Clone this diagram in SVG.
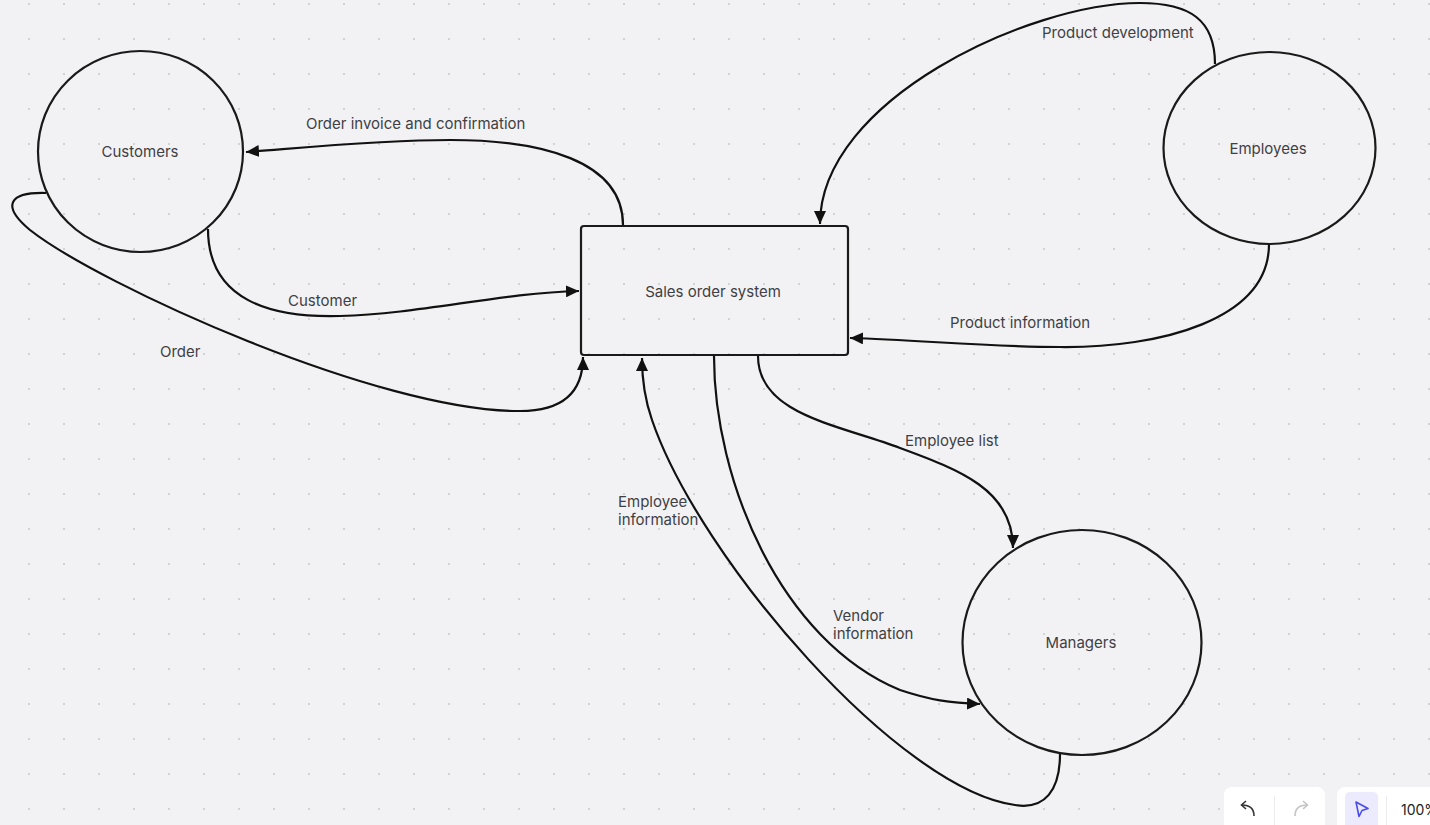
<svg xmlns="http://www.w3.org/2000/svg" width="1430" height="825" viewBox="0 0 1430 825">
<defs>
<pattern id="dots" x="0" y="0" width="35" height="35" patternUnits="userSpaceOnUse">
<circle cx="29" cy="4" r="1" fill="#c9c9cd"/>
</pattern>
<marker id="arrow" markerWidth="14" markerHeight="12" refX="13" refY="6" orient="auto" markerUnits="userSpaceOnUse">
<path d="M0,0 L13,6 L0,12 Z" fill="#111"/>
</marker>
<style>
.node { fill: none; stroke: #1a1a1a; stroke-width: 2.2; }
.lbl { font-family: Inter, "Liberation Sans", sans-serif; font-size: 15px; fill: #3f3f44; }
.nlbl { font-family: Inter, "Liberation Sans", sans-serif; font-size: 15px; fill: #3f3f44; text-anchor: middle; dominant-baseline: central; }
.edge { fill: none; stroke: #111; stroke-width: 2.2; marker-end: url(#arrow); }
</style>
</defs>
<rect x="0" y="0" width="1430" height="825" fill="#f2f2f4"/>
<rect x="0" y="0" width="1430" height="825" fill="url(#dots)"/>

<g id="connectors">
<path class="edge" d="M623,225 C623,160 540,140 450,140 C380,140 300,148 246,152"/>
<path class="edge" d="M208,229 C208,300 270,318 340,316 C420,314 500,293 579,291"/>
<path class="edge" d="M46,193 C10,192 0,205 30,230 C100,285 380,412 520,411 C565,411 583,390 583,357"/>
<path class="edge" d="M1215,64 C1215,20 1190,3 1140,3 C1030,3 820,100 820,224"/>
<path class="edge" d="M1269,244 C1269,320 1160,348 1060,347 C990,347 920,340 850,338"/>
<path class="edge" d="M758,356 C758,415 840,425 900,448 C960,470 1013,490 1013,548"/>
<path class="edge" d="M714,356 C714,480 780,640 900,690 C930,700 950,703 980,704"/>
<path class="edge" d="M1060,754 C1060,790 1045,810 1015,805 C900,790 700,560 652,420 C645,400 642,380 642,358"/>
<text class="lbl" x="306" y="129">Order invoice and confirmation</text>
<text class="lbl" x="288" y="306">Customer</text>
<text class="lbl" x="160" y="357">Order</text>
<text class="lbl" x="1042" y="38">Product development</text>
<text class="lbl" x="950" y="328">Product information</text>
<text class="lbl" x="905" y="446">Employee list</text>
<text class="lbl" x="833" y="621">Vendor</text>
<text class="lbl" x="833" y="639">information</text>
<text class="lbl" x="618" y="507">Employee</text>
<text class="lbl" x="618" y="525">information</text>
</g>

<g id="customers">
<ellipse class="node" cx="140.5" cy="151.5" rx="102.5" ry="100.5"/>
<text class="nlbl" x="140" y="151">Customers</text>
</g>
<g id="sales-order-system">
<rect class="node" x="581" y="226" width="267" height="129" rx="3"/>
<text class="nlbl" x="713" y="291">Sales order system</text>
</g>
<g id="employees">
<ellipse class="node" cx="1269.5" cy="148" rx="106" ry="96"/>
<text class="nlbl" x="1268" y="148">Employees</text>
</g>
<g id="managers">
<ellipse class="node" cx="1082" cy="642.5" rx="119.5" ry="112.5"/>
<text class="nlbl" x="1081" y="642">Managers</text>
</g>

<g id="toolbar">
<rect x="1224" y="787" width="101" height="50" rx="8" fill="#ffffff"/>
<line x1="1274.5" y1="796" x2="1274.5" y2="825" stroke="#ececef" stroke-width="1"/>
<path d="M1254,816 C1254,809 1250,805 1242,805" fill="none" stroke="#333" stroke-width="1.6"/>
<path d="M1246,801 L1241.5,805 L1246,809" fill="none" stroke="#333" stroke-width="1.6"/>
<path d="M1295,816 C1295,809 1299,805 1307,805" fill="none" stroke="#c4c4c8" stroke-width="1.6"/>
<path d="M1303,801 L1307.5,805 L1303,809" fill="none" stroke="#c4c4c8" stroke-width="1.6"/>
<rect x="1337" y="787" width="110" height="50" rx="8" fill="#ffffff"/>
<rect x="1345" y="792" width="33" height="40" rx="5" fill="#ebebfd"/>
<path d="M1356,802 L1368,808.5 L1362,810.5 L1359,816.5 Z" fill="none" stroke="#4b4bea" stroke-width="1.6" stroke-linejoin="round"/>
<line x1="1386.5" y1="796" x2="1386.5" y2="825" stroke="#ececef" stroke-width="1"/>
<text x="1401" y="815" font-family="Inter, 'Liberation Sans', sans-serif" font-size="14" fill="#222">100%</text>
</g>
</svg>
